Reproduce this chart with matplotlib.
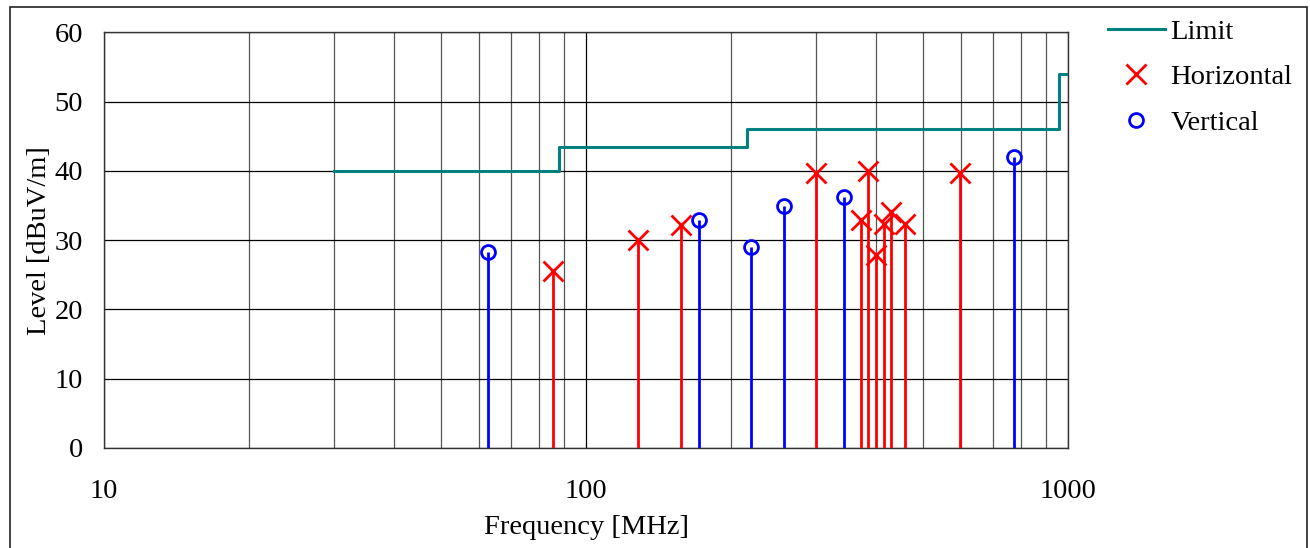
import matplotlib
matplotlib.use("Agg")
import matplotlib.pyplot as plt
from matplotlib.ticker import FixedLocator, NullFormatter, LogLocator
from matplotlib.patches import Rectangle

plt.rcParams['font.family'] = ['Liberation Serif', 'DejaVu Serif']

# limit line (step)
limit_freq = [30, 88, 88, 216, 216, 960, 960, 1000]
limit_level = [40, 40, 43.5, 43.5, 46, 46, 54, 54]

# horizontal polarisation peaks
h_freq = [85.6, 128.1, 157.7, 300.4, 371.5, 384.8, 400.5, 415.5, 428.6, 458.5, 597.5]
h_level = [25.6, 30.0, 32.2, 39.7, 32.9, 40.0, 27.9, 32.4, 34.1, 32.4, 39.7]

# vertical polarisation peaks
v_freq = [62.5, 171.8, 219.5, 257.2, 342.5, 772.5]
v_level = [28.3, 32.9, 29.0, 35.0, 36.3, 42.0]

x_ticks = [10, 100, 1000]
y_ticks = [0, 10, 20, 30, 40, 50, 60]

fig = plt.figure(figsize=(13.1, 5.48), dpi=100)
ax = fig.add_axes([0.0794, 0.1825, 0.7359, 0.7582])

ax.set_xscale('log')
ax.set_xlim(10, 1000)
ax.set_ylim(0, 60)

ax.plot(limit_freq, limit_level, color='#008080', lw=2.2, label='Limit', zorder=3)

ax.vlines(h_freq, 0, h_level, color='red', lw=2, zorder=3)
ax.plot(h_freq, h_level, 'x', color='red', ms=14, mew=2, ls='none', label='Horizontal', zorder=4)

ax.vlines(v_freq, 0, v_level, color='blue', lw=2, zorder=3)
ax.plot(v_freq, v_level, 'o', mfc='none', mec='blue', ms=10, mew=2, ls='none', label='Vertical', zorder=4)

ax.xaxis.set_major_locator(FixedLocator(x_ticks))
ax.set_xticklabels([str(t) for t in x_ticks])
ax.xaxis.set_minor_locator(LogLocator(base=10, subs=range(2, 10)))
ax.xaxis.set_minor_formatter(NullFormatter())
ax.set_yticks(y_ticks)

ax.grid(True, which='major', axis='both', color='black', lw=0.9)
ax.grid(True, which='minor', axis='x', color='#555555', lw=0.9)
ax.tick_params(which='both', length=0, labelsize=20.5)
ax.tick_params(axis='x', pad=22)
ax.tick_params(axis='y', pad=15)
for s in ax.spines.values():
    s.set_color('#333333')
    s.set_linewidth(1)

ax.set_xlabel('Frequency [MHz]', fontsize=20.5, labelpad=8)
ax.set_ylabel('Level [dBuV/m]', fontsize=20.5, labelpad=2)

ax.legend(loc='upper left', bbox_to_anchor=(1108 / 1310, 1 - 19 / 548),
          bbox_transform=fig.transFigure, frameon=False, fontsize=20.5,
          borderpad=0, borderaxespad=0, handlelength=2.0, handletextpad=0.2,
          labelspacing=0.68)

# outer frame
fig.patches.append(Rectangle((10 / 1310, -0.05), 1297 / 1310, 1.05 - 7.5 / 548,
                             transform=fig.transFigure, fill=False,
                             edgecolor='#222222', lw=1.2))

fig.savefig('out.png', dpi=100)
